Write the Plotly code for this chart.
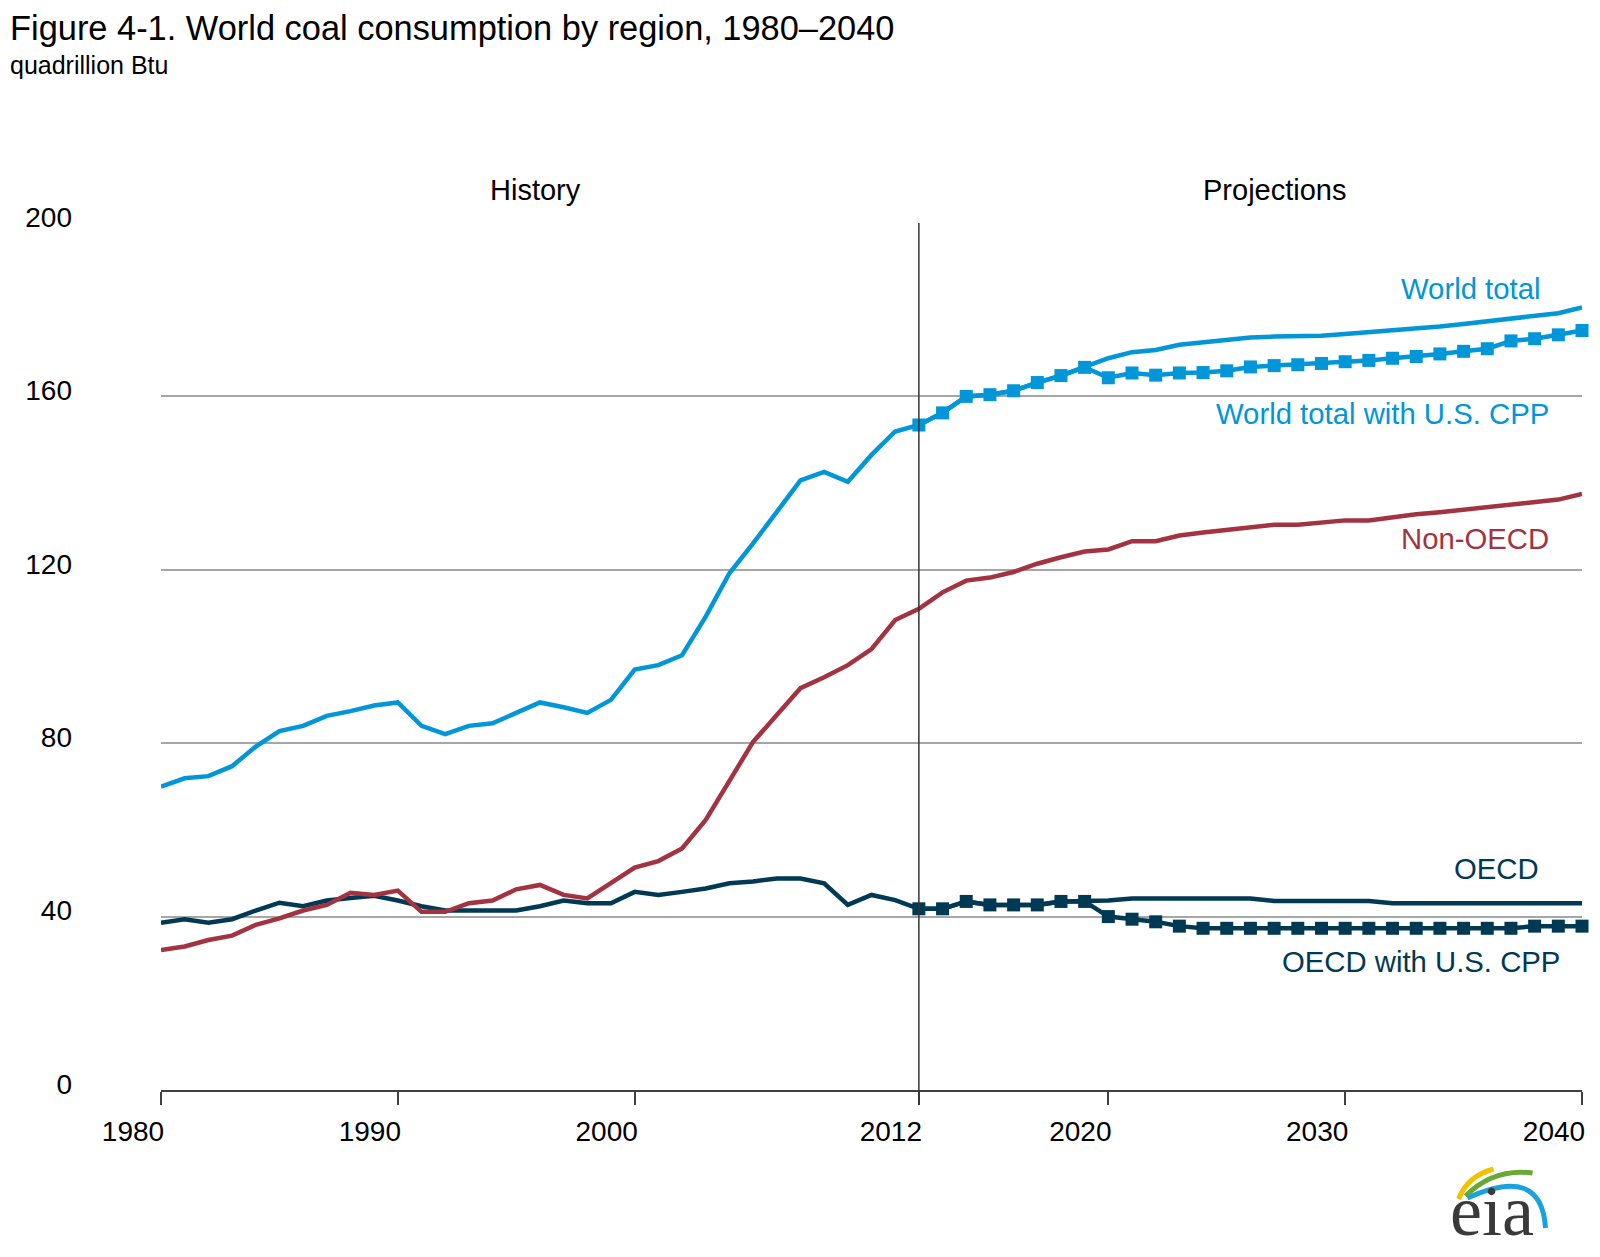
import plotly.graph_objects as go

# --- data (quadrillion Btu) ---
years_all = list(range(1980, 2041))
years_proj = list(range(2012, 2041))

world_total = [
    70.0, 71.9, 72.4, 74.7, 79.2, 82.8, 84.0, 86.3, 87.4, 88.7,
    89.4, 84.0, 82.1, 84.0, 84.6, 87.0, 89.4, 88.3, 87.0, 90.0,
    97.0, 98.0, 100.3, 109.2, 119.2, 126.1, 133.2, 140.6, 142.6, 140.3,
    146.5, 151.9, 153.4, 156.2, 160.0, 160.4, 161.3, 163.2, 164.8, 166.7,
    168.8, 170.2, 170.7, 171.9, 172.5, 173.0, 173.6, 173.8, 173.8, 174.0,
    174.4, 174.8, 175.3, 175.5, 176.1, 176.7, 177.3, 177.8, 178.4, 179.2,
    180.5,
]
non_oecd = [
    32.3, 33.1, 34.6, 35.6, 38.1, 39.6, 41.4, 42.7, 45.5, 45.0,
    46.0, 41.1, 41.1, 43.1, 43.7, 46.3, 47.3, 45.0, 44.2, 47.7,
    51.3, 52.8, 55.7, 62.3, 71.1, 80.3, 86.5, 92.7, 95.2, 98.0,
    101.7, 108.4, 111.0, 114.8, 117.5, 118.2, 119.5, 121.4, 122.9, 124.2,
    124.7, 126.6, 126.6, 127.9, 128.6, 129.2, 129.8, 130.4, 130.4, 131.0,
    131.4, 131.4, 132.2, 132.8, 133.3, 133.9, 134.5, 135.1, 135.6, 136.2,
    137.5,
]
oecd = [
    38.6, 39.4, 38.6, 39.4, 41.4, 43.2, 42.4, 43.7, 44.3, 44.8,
    43.7, 42.4, 41.4, 41.4, 41.4, 41.4, 42.4, 43.7, 43.1, 43.1,
    45.7, 45.0, 45.7, 46.5, 47.7, 48.1, 48.8, 48.8, 47.7, 42.7,
    45.0, 43.8, 41.8, 41.8, 43.5, 42.7, 42.7, 42.7, 43.5, 43.5,
    43.7, 44.2, 44.2, 44.2, 44.2, 44.2, 44.2, 43.6, 43.6, 43.6,
    43.6, 43.6, 43.1, 43.1, 43.1, 43.1, 43.1, 43.1, 43.1, 43.1,
    43.1,
]
world_cpp = [
    153.4, 156.2, 160.0, 160.4, 161.3, 163.2, 164.8, 166.7, 164.3, 165.4,
    164.9, 165.4, 165.5, 165.9, 166.8, 167.1, 167.3, 167.6, 168.0, 168.3,
    168.8, 169.2, 169.8, 170.4, 171.0, 172.8, 173.3, 174.2, 175.2,
]
oecd_cpp = [
    41.8, 41.8, 43.5, 42.7, 42.7, 42.7, 43.5, 43.5, 40.0, 39.4,
    38.8, 37.8, 37.3, 37.3, 37.3, 37.3, 37.3, 37.3, 37.3, 37.3,
    37.3, 37.3, 37.3, 37.3, 37.3, 37.3, 37.8, 37.8, 37.8,
]

x_tick_vals = [1980, 1990, 2000, 2012, 2020, 2030, 2040]
x_tick_text = ["1980", "1990", "2000", "2012", "2020", "2030", "2040"]
y_tick_vals = [0, 40, 80, 120, 160, 200]

BLUE = "#0096d7"
RED = "#a33340"
NAVY = "#003953"
FONT = "Liberation Sans, Arial, sans-serif"

W, H = 1600, 1257
OFF = 8  # page body margin
L, R, T, B = 161, 1582.5, 223, 1090  # plot area on the page


def px(x):
    return (x - L) / (R - L)


def py(y):
    return (B - y) / (B - T)


fig = go.Figure()

fig.add_trace(go.Scatter(x=years_all, y=oecd, mode="lines",
                         line=dict(color=NAVY, width=4.5), cliponaxis=False))
fig.add_trace(go.Scatter(x=years_all, y=non_oecd, mode="lines",
                         line=dict(color=RED, width=4.5), cliponaxis=False))
fig.add_trace(go.Scatter(x=years_all, y=world_total, mode="lines",
                         line=dict(color=BLUE, width=4.5), cliponaxis=False))
fig.add_trace(go.Scatter(x=years_proj, y=world_cpp, mode="lines+markers",
                         line=dict(color=BLUE, width=4.5),
                         marker=dict(symbol="square", size=13, color=BLUE),
                         cliponaxis=False))
fig.add_trace(go.Scatter(x=years_proj, y=oecd_cpp, mode="lines+markers",
                         line=dict(color=NAVY, width=4.5),
                         marker=dict(symbol="square", size=13, color=NAVY),
                         cliponaxis=False))

# history / projections divider
fig.add_shape(type="line", xref="x", yref="paper", x0=2012, x1=2012,
              y0=py(1104), y1=1, line=dict(color="#333333", width=1.5))

annotations = [
    dict(text="Figure 4-1. World coal consumption by region, 1980\u20132040",
         x=px(8), y=py(28), xanchor="left", yanchor="middle",
         font=dict(size=34.4, color="#000000")),
    dict(text="quadrillion Btu", x=px(8), y=py(65), xanchor="left",
         yanchor="middle", font=dict(size=25, color="#000000")),
    dict(text="History", x=px(536), y=py(190), xanchor="center",
         yanchor="middle", font=dict(size=29, color="#000000")),
    dict(text="Projections", x=px(1275), y=py(190), xanchor="center",
         yanchor="middle", font=dict(size=29, color="#000000")),
    dict(text="World total", x=px(1543), y=py(288), xanchor="right",
         yanchor="middle", font=dict(size=29.3, color=BLUE)),
    dict(text="World total with U.S. CPP", x=px(1551), y=py(413),
         xanchor="right", yanchor="middle", font=dict(size=29.3, color=BLUE)),
    dict(text="Non-OECD", x=px(1551), y=py(538), xanchor="right",
         yanchor="middle", font=dict(size=29.3, color=RED)),
    dict(text="OECD", x=px(1541), y=py(868), xanchor="right",
         yanchor="middle", font=dict(size=29.3, color=NAVY)),
    dict(text="OECD with U.S. CPP", x=px(1562), y=py(961), xanchor="right",
         yanchor="middle", font=dict(size=29.3, color=NAVY)),
    dict(text="eia", x=px(1492), y=py(1211), xanchor="center",
         yanchor="middle",
         font=dict(size=72, color="#3a3a3a",
                   family="Liberation Serif, DejaVu Serif, serif")),
]
for a in annotations:
    a.update(xref="paper", yref="paper", showarrow=False)

# eia logo swooshes
arcs = [
    ((1459, 1199), (1468, 1176), (1494, 1169), "#f2c200"),
    ((1466, 1196), (1494, 1168), (1533, 1173), "#6aa834"),
    ((1468, 1198), (1542, 1164), (1546, 1228), "#1ba1dc"),
]
for p0, c, p1, col in arcs:
    path = (f"M {px(p0[0])},{py(p0[1])} Q {px(c[0])},{py(c[1])} "
            f"{px(p1[0])},{py(p1[1])}")
    fig.add_shape(type="path", xref="paper", yref="paper", path=path,
                  line=dict(color=col, width=5))

fig.update_layout(
    width=W, height=H,
    margin=dict(l=L - OFF, r=W - (R - OFF), t=T - OFF, b=H - (B - OFF), pad=0),
    paper_bgcolor="white",
    plot_bgcolor="white",
    showlegend=False,
    font=dict(family=FONT, color="#000000"),
    annotations=annotations,
    xaxis=dict(
        range=[1980, 2040],
        tickvals=x_tick_vals, ticktext=x_tick_text,
        ticks="outside", ticklen=13, tickwidth=1.5, tickcolor="#404040",
        ticklabelshift=-28, ticklabelstandoff=2,
        showline=True, linecolor="#404040", linewidth=2,
        showgrid=False, zeroline=False,
        tickfont=dict(size=28, family=FONT, color="#000000"),
    ),
    yaxis=dict(
        range=[0, 200],
        tickvals=y_tick_vals,
        showgrid=True, gridcolor="#a6a6a6", gridwidth=1.5,
        zeroline=False, showline=False, ticks="",
        ticklabelstandoff=88, ticklabelshift=-6,
        tickfont=dict(size=28, family=FONT, color="#000000"),
    ),
)

fig.write_html("out.html")
